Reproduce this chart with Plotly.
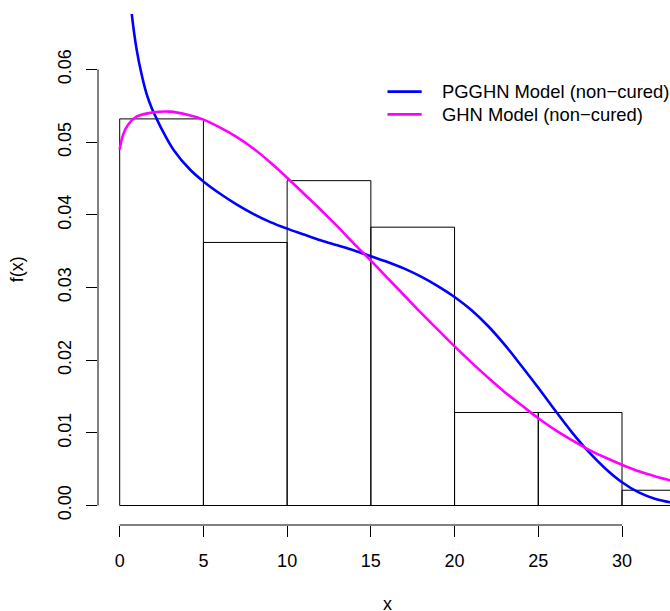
import plotly.graph_objects as go

# ---- data ----
bin_left = [0, 5, 10, 15, 20, 25, 30]
bin_width = 5
density = [0.0532, 0.0362, 0.0447, 0.0383, 0.0128, 0.0128, 0.0021]

pgghn_x = [0.25, 0.35, 0.5, 0.717, 1.015, 1.31, 1.61, 1.91, 2.21, 2.51, 3.2, 4.21, 5, 6, 7, 8, 9, 10,
           11, 12, 13, 14, 15, 16, 17, 18, 19, 20, 21, 22, 23, 24, 25, 26, 27, 28, 29, 30, 31, 32, 33]
pgghn_y = [0.0870, 0.0800, 0.0731, 0.0677, 0.0627, 0.0593, 0.0566, 0.0547, 0.0532, 0.0518, 0.0490,
           0.0462, 0.0446, 0.0429, 0.0414, 0.0401, 0.0390, 0.0381, 0.0373, 0.0365, 0.0358, 0.0351,
           0.0343, 0.0335, 0.0326, 0.0315, 0.0302, 0.0287, 0.0269, 0.0247, 0.0221, 0.0192, 0.0162,
           0.0131, 0.0101, 0.0074, 0.0051, 0.0032, 0.0018, 0.0009, 0.0004]

ghn_x = [0, 0.2, 0.5, 1, 2, 3, 4, 5, 6, 7, 8, 9, 10, 11, 12, 13, 14, 15, 16, 17, 18, 19, 20,
         21, 22, 23, 24, 25, 26, 27, 28, 29, 30, 31, 32, 33]
ghn_y = [0.0490, 0.0510, 0.0524, 0.0535, 0.0541, 0.0542, 0.0538, 0.0531, 0.0520, 0.0507, 0.0491,
         0.0472, 0.0451, 0.0429, 0.0407, 0.0384, 0.0360, 0.0337, 0.0313, 0.0289, 0.0265, 0.0242,
         0.0219, 0.0197, 0.0176, 0.0156, 0.0138, 0.0120, 0.0104, 0.0090, 0.0077, 0.0066, 0.0056,
         0.0047, 0.0040, 0.0034]

x_ticks = [0, 5, 10, 15, 20, 25, 30]
y_ticks = [0.00, 0.01, 0.02, 0.03, 0.04, 0.05, 0.06]
y_tick_text = ["0.00", "0.01", "0.02", "0.03", "0.04", "0.05", "0.06"]

legend_names = ["PGGHN Model (non\u2212cured)", "GHN Model (non\u2212cured)"]
legend_colors = ["#0000FF", "#FF00FF"]

FONT = "Liberation Sans, Arial, Helvetica, sans-serif"

fig = go.Figure()
fig.add_trace(go.Bar(
    x=[b + bin_width / 2 for b in bin_left], y=density, width=bin_width,
    marker=dict(color="rgba(0,0,0,0)", line=dict(color="black", width=1)),
    showlegend=False, hoverinfo="skip"))
fig.add_trace(go.Scatter(x=pgghn_x, y=pgghn_y, mode="lines",
                         line=dict(color=legend_colors[0], width=2.6, shape="spline", smoothing=1.0),
                         showlegend=False))
fig.add_trace(go.Scatter(x=ghn_x, y=ghn_y, mode="lines",
                         line=dict(color=legend_colors[1], width=2.6, shape="spline", smoothing=1.0),
                         showlegend=False))

shapes = [
    dict(type="line", xref="x", yref="paper", x0=x_ticks[0], x1=x_ticks[-1], y0=0, y1=0,
         line=dict(color="black", width=1)),
    dict(type="line", xref="paper", yref="y", x0=0, x1=0, y0=y_ticks[0], y1=y_ticks[-1],
         line=dict(color="black", width=1)),
]
annotations = [
    dict(text="x", xref="x", yref="paper", x=16, y=0, yshift=-79, showarrow=False,
         font=dict(size=18, color="black", family=FONT), yanchor="middle"),
    dict(text="f(x)", xref="paper", yref="y", x=0, y=0.0325, xshift=-81, showarrow=False,
         textangle=-90, font=dict(size=18, color="black", family=FONT), xanchor="center"),
]
leg_y = [0.848, 0.8035]
for name, col, yy in zip(legend_names, legend_colors, leg_y):
    shapes.append(dict(type="line", xref="paper", yref="paper", x0=0.5061, x1=0.5659, y0=yy, y1=yy,
                       line=dict(color=col, width=2.6)))
    annotations.append(dict(text=name, xref="paper", yref="paper", x=0.5979, y=yy, xanchor="left",
                            yanchor="middle", showarrow=False,
                            font=dict(size=18.4, color="black", family=FONT)))

fig.update_layout(
    width=670, height=611,
    margin=dict(l=98, r=0, t=14, b=86),
    plot_bgcolor="white", paper_bgcolor="white",
    font=dict(family=FONT, size=18, color="black"),
    shapes=shapes, annotations=annotations,
    showlegend=False,
    xaxis=dict(range=[-1.296, 32.867], tickvals=x_ticks, ticks="outside", ticklen=11,
               tickcolor="black", tickwidth=1, showgrid=False, zeroline=False, showline=False,
               ticklabelstandoff=8, tickfont=dict(size=18, color="black", family=FONT)),
    yaxis=dict(range=[-0.002683, 0.067635], tickvals=y_ticks, ticktext=y_tick_text, ticks="outside",
               ticklen=11, tickcolor="black", tickwidth=1, showgrid=False, zeroline=False,
               showline=False, tickangle=-90, ticklabelstandoff=8,
               tickfont=dict(size=18, color="black", family=FONT)),
)
fig.write_html("out.html")
